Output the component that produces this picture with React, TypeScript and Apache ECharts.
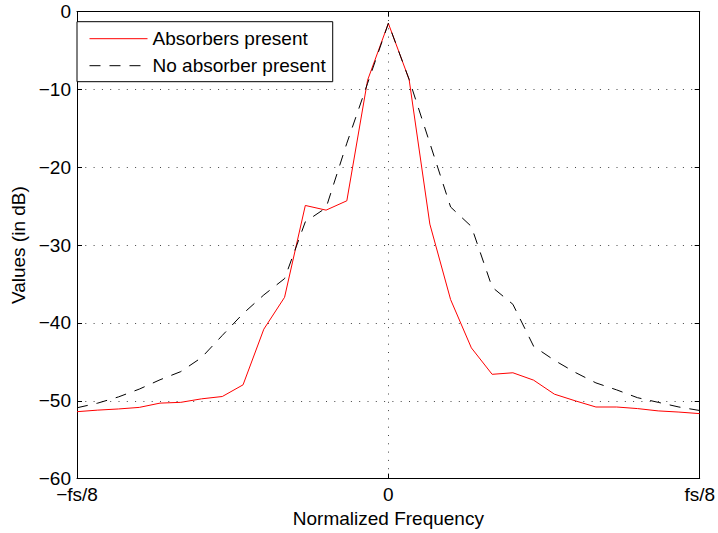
import React, { useEffect, useRef } from "react";
import * as echarts from "echarts";

const freqBins = [-15, -14, -13, -12, -11, -10, -9, -8, -7, -6, -5, -4, -3, -2, -1, 0, 1, 2, 3, 4, 5, 6, 7, 8, 9, 10, 11, 12, 13, 14, 15];

const absorbersPresent = [
  -51.4, -51.2, -51.05, -50.85, -50.3, -50.2, -49.75, -49.45, -47.95, -40.8, -36.7,
  -24.9, -25.5, -24.3, -8.8, -1.5, -8.7, -27.3, -37.0, -43.2, -46.6,
  -46.4, -47.35, -49.15, -50.0, -50.8, -50.8, -51.0, -51.3, -51.45, -51.65,
];

const noAbsorberPresent = [
  -50.9, -50.3, -49.5, -48.5, -47.3, -46.25, -44.45, -41.6, -38.8, -36.4, -34.3,
  -27.0, -25.2, -16.9, -9.2, -1.5, -8.7, -16.9, -25.1, -27.6, -35.4,
  -37.6, -43.0, -44.8, -46.35, -47.7, -48.6, -49.6, -50.2, -50.8, -51.25,
];

const seriesNames = ["Absorbers present", "No absorber present"];
const xTickValues = [-15, 0, 15];
const xTickLabels = ["\u2212fs/8", "0", "fs/8"];
const yMin = -60;
const yMax = 0;
const yInterval = 10;
const xLabel = "Normalized Frequency";
const yLabel = "Values (in dB)";

const FONT = "'Liberation Sans', Arial, Helvetica, sans-serif";
const FS = 19;

export default function App() {
  const ref = useRef<HTMLDivElement>(null);

  useEffect(() => {
    if (!ref.current) return;
    const chart = echarts.init(ref.current, null, { renderer: "svg" });
    const gridDot = { color: "#444", width: 1, type: [1, 7.3] as any };
    const tickStyle = { show: true, inside: true, length: 5, lineStyle: { color: "#000", width: 1 } };
    const xFmt = (v: number) => {
      const i = xTickValues.indexOf(v);
      return i >= 0 ? xTickLabels[i] : "";
    };
    const yFmt = (v: number) => (v < 0 ? "\u2212" + Math.abs(v) : String(v));

    chart.setOption({
      animation: false,
      backgroundColor: "#fff",
      textStyle: { fontFamily: FONT, color: "#000" },
      grid: { left: 77, right: 16.5, top: 11.7, bottom: 53.7, containLabel: false },
      legend: {
        left: 77,
        top: 21.7,
        orient: "vertical",
        data: seriesNames,
        backgroundColor: "#fff",
        borderColor: "#000",
        borderWidth: 1,
        borderRadius: 0,
        padding: [7, 7, 6, 12],
        itemWidth: 58,
        itemHeight: 14,
        itemGap: 7,
        itemStyle: { opacity: 0, borderWidth: 0 },
        lineStyle: { width: 1 },
        textStyle: { fontFamily: FONT, fontSize: FS, color: "#000", lineHeight: 20 },
      },
      xAxis: [
        {
          type: "value",
          min: -15,
          max: 15,
          interval: 15,
          name: xLabel,
          nameLocation: "middle",
          nameGap: 30,
          nameTextStyle: { fontFamily: FONT, fontSize: FS, color: "#000" },
          axisLine: { show: true, onZero: false, lineStyle: { color: "#000", width: 1 } },
          axisTick: tickStyle,
          axisLabel: { fontFamily: FONT, fontSize: FS, lineHeight: 14, color: "#000", margin: 9, formatter: xFmt },
          splitLine: { show: true, lineStyle: gridDot },
        },
        {
          type: "value",
          position: "top",
          min: -15,
          max: 15,
          interval: 15,
          axisLine: { show: true, onZero: false, lineStyle: { color: "#000", width: 1 } },
          axisTick: tickStyle,
          axisLabel: { show: false },
          splitLine: { show: false },
        },
      ],
      yAxis: [
        {
          type: "value",
          min: yMin,
          max: yMax,
          interval: yInterval,
          name: yLabel,
          nameLocation: "middle",
          nameGap: 47,
          nameRotate: 90,
          nameTextStyle: { fontFamily: FONT, fontSize: FS, color: "#000" },
          axisLine: { show: true, onZero: false, lineStyle: { color: "#000", width: 1 } },
          axisTick: tickStyle,
          axisLabel: { fontFamily: FONT, fontSize: FS, lineHeight: 14, color: "#000", margin: 6, formatter: yFmt },
          splitLine: { show: true, lineStyle: gridDot },
        },
        {
          type: "value",
          position: "right",
          min: yMin,
          max: yMax,
          interval: yInterval,
          axisLine: { show: true, onZero: false, lineStyle: { color: "#000", width: 1 } },
          axisTick: tickStyle,
          axisLabel: { show: false },
          splitLine: { show: false },
        },
      ],
      series: [
        {
          name: seriesNames[0],
          type: "line",
          xAxisIndex: 0,
          yAxisIndex: 0,
          symbol: "none",
          showSymbol: false,
          data: freqBins.map((f, i) => [f, absorbersPresent[i]]),
          lineStyle: { color: "#ff0000", width: 1 },
          itemStyle: { color: "#ff0000" },
          z: 3,
        },
        {
          name: seriesNames[1],
          type: "line",
          xAxisIndex: 0,
          yAxisIndex: 0,
          symbol: "none",
          showSymbol: false,
          data: freqBins.map((f, i) => [f, noAbsorberPresent[i]]),
          lineStyle: { color: "#000", width: 1, type: [11, 9] },
          itemStyle: { color: "#000" },
          z: 4,
        },
      ],
    });
    return () => chart.dispose();
  }, []);

  return (
    <div
      ref={ref}
      style={{ position: "fixed", left: 0, top: 0, width: 718, height: 533, background: "#fff" }}
    />
  );
}
